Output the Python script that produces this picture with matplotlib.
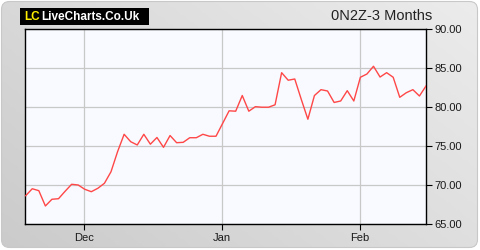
import numpy as np
import matplotlib
matplotlib.use("Agg")
import matplotlib.pyplot as plt
from matplotlib.patches import FancyBboxPatch, Rectangle

values = [68.67, 69.56, 69.31, 67.35, 68.21, 68.28, 69.23, 70.13, 70.04, 69.49,
          69.18, 69.62, 70.26, 71.74, 74.31, 76.54, 75.59, 75.17, 76.54, 75.27,
          76.13, 74.87, 76.38, 75.46, 75.51, 76.10, 76.10, 76.54, 76.29, 76.29,
          77.92, 79.55, 79.50, 81.51, 79.50, 80.08, 80.01, 80.01, 80.32, 84.44,
          83.47, 83.63, 81.00, 78.47, 81.51, 82.26, 82.09, 80.62, 80.81, 82.13,
          80.81, 83.85, 84.27, 85.26, 83.88, 84.44, 83.85, 81.28, 81.87, 82.26,
          81.45, 82.73]
month_labels = ["Dec", "Jan", "Feb"]
month_index = [8.93, 29.95, 50.92]
y_ticks = [65, 70, 75, 80, 85, 90]
title = "0N2Z-3 Months"

plt.rcParams['font.family'] = ['Liberation Sans', 'DejaVu Sans']

fig = plt.figure(figsize=(4.8, 2.5), dpi=100)
fig.patch.set_facecolor('white')

# background panel with gradient
bg = fig.add_axes([0, 0, 1, 1])
bg.set_xlim(0, 480)
bg.set_ylim(0, 250)
bg.axis('off')
xx, yy = np.meshgrid(np.linspace(0, 1, 200), np.linspace(0, 1, 100))
grad = (xx * 0.6 + yy * 0.4)
img = bg.imshow(grad, extent=[0, 480, 0, 250], origin='lower', cmap=matplotlib.colors.LinearSegmentedColormap.from_list('g', ['#cbcbcb', '#ececec']), aspect='auto', zorder=0)
panel = FancyBboxPatch((1.5, 2.5), 476, 246, boxstyle="round,pad=0,rounding_size=8",
                       transform=bg.transData, facecolor='none', edgecolor='#c8c8c8', lw=0.8)
bg.add_patch(panel)
img.set_clip_path(panel)

# logo
bg.add_patch(Rectangle((20, 225), 129, 17, facecolor='black', edgecolor='none', zorder=2))
bg.text(24, 233.5, "LC", color='#ffee00', fontsize=8.5, fontweight='bold', va='center', ha='left', zorder=3)
bg.text(41, 233.5, "LiveCharts.Co.Uk", color='white', fontsize=8.5, fontweight='bold', va='center', ha='left', zorder=3)
bg.text(432, 234, title, color='#222222', fontsize=10.5, va='center', ha='right', zorder=3)

ax = fig.add_axes([25.3 / 480, 1 - 224.3 / 250, (426 - 25.3) / 480, (224.3 - 29.3) / 250])
ax.set_facecolor('#f8faff')
x = np.arange(len(values))
ax.plot(x, values, color='#ff4747', lw=1.0, zorder=3)
ax.set_xlim(-0.06, 61.0)
ax.set_ylim(65, 90)
ax.set_yticks(y_ticks)
ax.set_yticklabels([f"{v:.2f}" for v in y_ticks])
ax.set_xticks(month_index)
ax.set_xticklabels(month_labels)
ax.yaxis.tick_right()
ax.grid(True, color='#c8c8c8', lw=0.9)
ax.set_axisbelow(True)
for s in ax.spines.values():
    s.set_color('black')
    s.set_linewidth(1.0)
ax.tick_params(axis='both', colors='black', labelcolor='#1a1a1a', labelsize=8, length=4, width=0.8, direction='out', pad=2)

fig.savefig("out.png", dpi=100, facecolor='white')
